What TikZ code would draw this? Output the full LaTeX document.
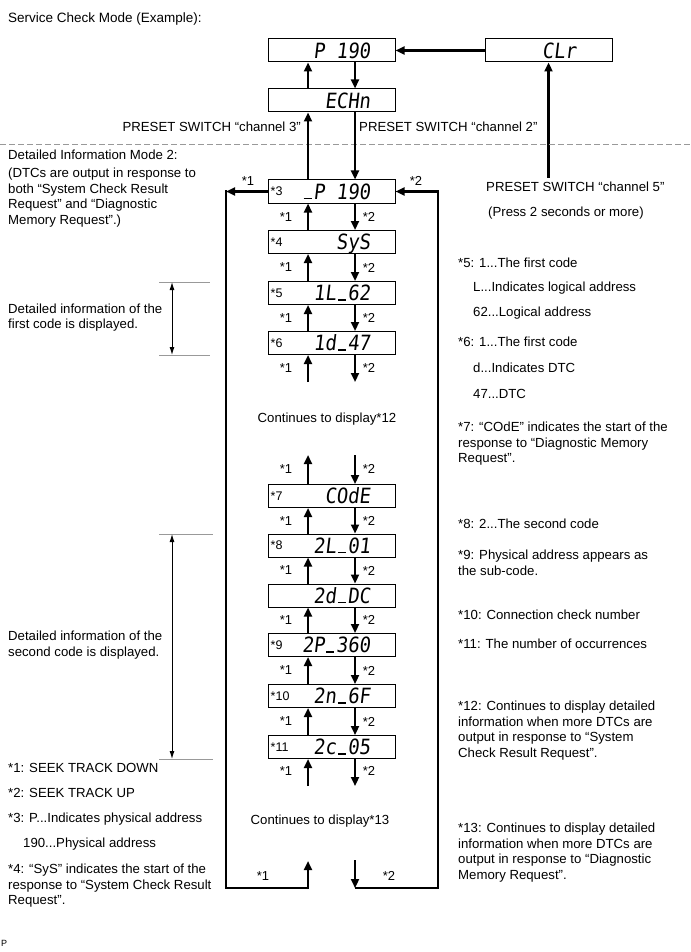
\documentclass[tikz,border=0pt]{standalone}
\usepackage{fontspec}
\setmainfont{Liberation Sans}
\newfontfamily\segfont{DejaVu Sans Mono}[FakeSlant=0.12,FakeStretch=0.9]
\newcommand\segus{\makebox[11.4pt]{\rule{8pt}{1.5pt}}}
\usetikzlibrary{arrows.meta}
\begin{document}
\begin{tikzpicture}[x=1pt,y=-1pt,
  txt/.style={font=\fontsize{13.2}{15.6}\selectfont, inner sep=0pt, align=left},
  dbox/.style={draw, line width=1pt, minimum width=127pt, minimum height=23pt, inner sep=0pt},
  seg/.style={font=\segfont\fontsize{21}{21}\selectfont, inner sep=0pt, anchor=base east},
  tag/.style={font=\fontsize{12.5}{14}\selectfont, inner sep=0pt, anchor=west},
  sk/.style={font=\fontsize{13}{14}\selectfont, inner sep=0pt},
  conn/.style={line width=2.2pt, line join=miter, -{Triangle[length=9pt,width=8pt]}},
  heavy/.style={line width=2.2pt, line join=miter},
  brk/.style={draw=black!40, line width=0.7pt},
  brarr/.style={line width=1pt, {Latex[length=8pt,width=5pt]}-{Latex[length=8pt,width=5pt]}},
  dash line/.style={draw=black!40, line width=1pt, dash pattern=on 6pt off 3pt}
]
\fill[white] (0,0) rectangle (690,952);
\useasboundingbox (0,0) rectangle (690,952);

% title
\node[txt, anchor=base west, font=\fontsize{13.5}{15.6}\selectfont] (title) at (8,22.8) {Service Check Mode (Example):};

% top boxes
\node[dbox] (p190) at (331.5,50.5) {};
\node[seg] (p190-t) at ([xshift=-25pt,yshift=-7.6pt]p190.east) {P 190};
\node[dbox] (clr) at (548.5,50.5) {};
\node[seg] (clr-t) at ([xshift=-36pt,yshift=-7.6pt]clr.east) {CLr};
\node[dbox] (echn) at (331.5,100.5) {};
\node[seg] (echn-t) at ([xshift=-25pt,yshift=-7.6pt]echn.east) {ECHn};

\draw[conn] (clr.west) -- (p190.east);
\coordinate (c5) at (548.5,178);
\draw[conn] (c5) -- (clr.south);

\node[txt, anchor=base east] (ch3) at (301,131.8) {PRESET SWITCH “channel 3”};
\node[txt, anchor=base west] (ch2) at (359,131.8) {PRESET SWITCH “channel 2”};
\node[txt, anchor=base west] (ch5) at (486,191.8) {PRESET SWITCH “channel 5”};
\node[txt, anchor=base west] (press) at (488,216.8) {(Press 2 seconds or more)};

% dashed separator
\coordinate (dl) at (0,145);
\coordinate (dr) at (690,145);
\draw[dash line] (dl) -- (dr);

\node[txt, anchor=base west] (mode2) at (8,159.8) {Detailed Information Mode 2:};
\node[txt, anchor=north west] (dtcs) at (8,168) {(DTCs are output in response to\\both “System Check Result\\Request” and “Diagnostic\\Memory Request”.)};

% display boxes of the detailed mode
\foreach \n/\y/\d/\s in {b3/191.5/{\segus P 190}/{*3}, b4/242/{SyS}/{*4}, b5/293/{1L\segus 62}/{*5}, b6/343/{1d\segus 47}/{*6}, b7/496/{COdE}/{*7}, b8/545.5/{2L\segus 01}/{*8}, bdc/595.5/{2d\segus DC}/{}, b9/645/{2P\segus 360}/{*9}, b10/696/{2n\segus 6F}/{*10}, b11/747/{2c\segus 05}/{*11}}{
  \node[dbox] (\n) at (331.5,\y) {};
  \node[seg] (\n-t) at ([xshift=-25pt,yshift=-7.6pt]\n.east) {\d};
  \node[tag] (\n-s) at ([xshift=3pt]\n.west) {\s};
}

% arrows between the top boxes
\foreach \a/\b in {p190/echn, echn/b3}{
  \draw[conn] ([xshift=-23.5pt]\b.north) -- ([xshift=-23.5pt]\a.south);
  \draw[conn] ([xshift=23.5pt]\a.south) -- ([xshift=23.5pt]\b.north);
}

% arrows between the detailed boxes
\foreach \a/\b in {b3/b4, b4/b5, b5/b6, b7/b8, b8/bdc, bdc/b9, b9/b10, b10/b11}{
  \draw[conn] ([xshift=-23.5pt]\b.north) -- ([xshift=-23.5pt]\a.south);
  \draw[conn] ([xshift=23.5pt]\a.south) -- ([xshift=23.5pt]\b.north);
  \path (\a.south) -- (\b.north)
    node[midway, sk, xshift=-45.5pt] (\a-l1) {*1}
    node[midway, sk, xshift=37.5pt] (\a-l2) {*2};
}

% free arrows below *6
\coordinate (u6) at (308,382);
\coordinate (d6) at (355,382);
\draw[conn] (u6) -- ([xshift=-23.5pt]b6.south);
\draw[conn] ([xshift=23.5pt]b6.south) -- (d6);
\node[sk] (l6a) at (286,368) {*1};
\node[sk] (l6b) at (369,368) {*2};

\node[txt, anchor=base] (cont12) at (327,422.8) {Continues to display*12};

% free arrows above *7
\coordinate (u7) at (308,455);
\coordinate (d7) at (355,455);
\draw[conn] ([xshift=-23.5pt]b7.north) -- (u7);
\draw[conn] (d7) -- ([xshift=23.5pt]b7.north);
\node[sk] (l7a) at (286,469) {*1};
\node[sk] (l7b) at (369,469) {*2};

% free arrows below *11
\coordinate (u11) at (308,786);
\coordinate (d11) at (355,786);
\draw[conn] (u11) -- ([xshift=-23.5pt]b11.south);
\draw[conn] ([xshift=23.5pt]b11.south) -- (d11);
\node[sk] (l11a) at (286,771) {*1};
\node[sk] (l11b) at (369,771) {*2};

\node[txt, anchor=base] (cont13) at (320,824.8) {Continues to display*13};

% left loop (*1)
\coordinate (lc) at (226,191.5);
\coordinate (lb) at (226,888);
\coordinate (lbu) at (308,888);
\coordinate (lbt) at (308,861);
\draw[conn] (b3.west) -- (lc);
\draw[heavy] ([yshift=1.1pt]lc) -- (lb) -- (lbu);
\draw[conn] ([yshift=-1.1pt]lbu) -- (lbt);
\node[sk] (lt1) at (248,181) {*1};
\node[sk] (lb1) at (263,876) {*1};

% right loop (*2)
\coordinate (rd) at (355,860);
\coordinate (rb) at (355,888);
\coordinate (rr) at (438,888);
\coordinate (rc) at (438,191.5);
\draw[conn] (rd) -- (rb);
\draw[heavy] (rb) -- (rr) -- (rc);
\draw[conn] ([xshift=1.1pt]rc) -- (b3.east);
\node[sk] (rt2) at (416,181) {*2};
\node[sk] (rb2) at (389,876) {*2};

% brackets on the left
\coordinate (k1a) at (159,282);
\coordinate (k1b) at (210,282);
\coordinate (k1c) at (159,355);
\coordinate (k1d) at (210,355);
\draw[brk] (k1a) -- (k1b);
\draw[brk] (k1c) -- (k1d);
\coordinate (k1t) at (172,282);
\coordinate (k1u) at (172,355);
\draw[brarr] (k1t) -- (k1u);
\node[txt, anchor=north west] (first) at (8,303.5) {Detailed information of the\\first code is displayed.};

\coordinate (k2a) at (159,534);
\coordinate (k2b) at (213,534);
\coordinate (k2c) at (159,759);
\coordinate (k2d) at (213,759);
\draw[brk] (k2a) -- (k2b);
\draw[brk] (k2c) -- (k2d);
\coordinate (k2t) at (172,534);
\coordinate (k2u) at (172,759);
\draw[brarr] (k2t) -- (k2u);
\node[txt, anchor=north west] (second) at (8,631) {Detailed information of the\\second code is displayed.};

% notes on the left
\node[txt, anchor=base west] (n1) at (8,772.8) {*1: SEEK TRACK DOWN};
\node[txt, anchor=base west] (n2) at (8,797.8) {*2: SEEK TRACK UP};
\node[txt, anchor=base west] (n3) at (8,822.8) {*3: P...Indicates physical address};
\node[txt, anchor=base west] (n3b) at (23,847.8) {190...Physical address};
\node[txt, anchor=north west] (n4) at (8,864) {*4: “SyS” indicates the start of the\\response to “System Check Result\\Request”.};

% notes on the right
\node[txt, anchor=base west] (n5) at (458,267.8) {*5: 1...The first code};
\node[txt, anchor=base west] (n5b) at (473,291.8) {L...Indicates logical address};
\node[txt, anchor=base west] (n5c) at (473,316.8) {62...Logical address};
\node[txt, anchor=base west] (n6) at (458,346.8) {*6: 1...The first code};
\node[txt, anchor=base west] (n6b) at (473,372.8) {d...Indicates DTC};
\node[txt, anchor=base west] (n6c) at (473,398.8) {47...DTC};
\node[txt, anchor=north west] (n7) at (458,422) {*7: “COdE” indicates the start of the\\response to “Diagnostic Memory\\Request”.};
\node[txt, anchor=base west] (n8) at (458,528.8) {*8: 2...The second code};
\node[txt, anchor=north west] (n9) at (458,550) {*9: Physical address appears as\\the sub-code.};
\node[txt, anchor=base west] (n10) at (458,619.8) {*10: Connection check number};
\node[txt, anchor=base west] (n11) at (458,648.8) {*11: The number of occurrences};
\node[txt, anchor=north west] (n12) at (458,701) {*12: Continues to display detailed\\information when more DTCs are\\output in response to “System\\Check Result Request”.};
\node[txt, anchor=north west] (n13) at (458,823) {*13: Continues to display detailed\\information when more DTCs are\\output in response to “Diagnostic\\Memory Request”.};

\node[font=\fontsize{9}{10}\selectfont, inner sep=0pt, anchor=base west] (pmark) at (1,946) {P};
\end{tikzpicture}
\end{document}
